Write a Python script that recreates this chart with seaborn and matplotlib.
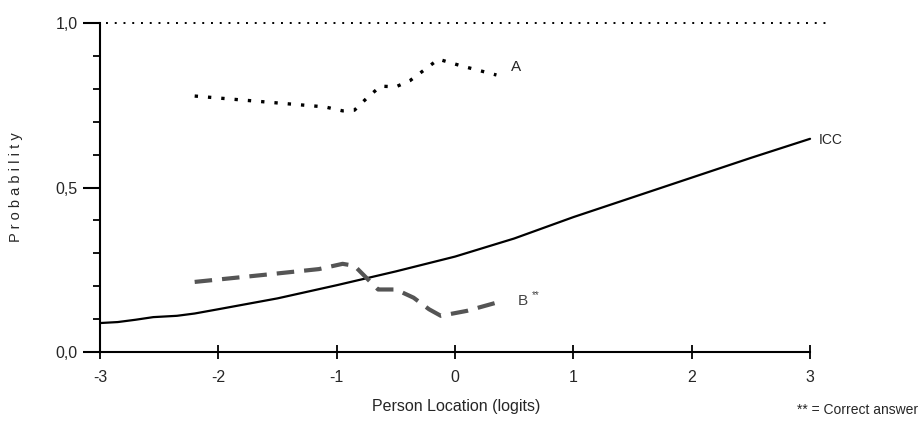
import numpy as np
import pandas as pd
import seaborn as sns
import matplotlib.pyplot as plt
from matplotlib.ticker import MultipleLocator, FixedLocator

sns.set_theme(style="white")
plt.rcParams['font.family'] = ['Liberation Sans', 'DejaVu Sans']

## data
icc_x = [-3.0, -2.85, -2.7, -2.55, -2.35, -2.2, -2.0, -1.5, -1.0, -0.5, 0.0, 0.5, 1.0, 1.5, 2.0, 2.5, 3.0]
icc_y = [0.088, 0.091, 0.098, 0.106, 0.110, 0.117, 0.130, 0.163, 0.203, 0.245, 0.290, 0.345, 0.410, 0.470, 0.530, 0.590, 0.648]

a_x = [-2.2, -1.6, -1.1, -0.95, -0.85, -0.75, -0.63, -0.5, -0.38, -0.25, -0.14, 0.05, 0.35]
a_y = [0.778, 0.760, 0.745, 0.733, 0.735, 0.770, 0.808, 0.806, 0.825, 0.860, 0.890, 0.870, 0.842]

b_x = [-2.2, -1.6, -1.15, -0.95, -0.85, -0.72, -0.65, -0.5, -0.35, -0.22, -0.12, 0.1, 0.4]
b_y = [0.213, 0.235, 0.252, 0.268, 0.262, 0.215, 0.190, 0.190, 0.165, 0.130, 0.110, 0.125, 0.155]

xticks = [-3, -2, -1, 0, 1, 2, 3]
yticks = [0.0, 0.5, 1.0]
ytick_labels = ['0,0', '0,5', '1,0']

icc = pd.DataFrame({'x': icc_x, 'y': icc_y})
opt_a = pd.DataFrame({'x': a_x, 'y': a_y})
opt_b = pd.DataFrame({'x': b_x, 'y': b_y})

fig = plt.figure(figsize=(9.2, 4.22), dpi=100)
ax = fig.add_axes([100/920, 70/422, (827.8-100)/920, 329/422])

sns.lineplot(data=icc, x='x', y='y', ax=ax, color='black', linewidth=1.6, sort=False)
sns.lineplot(data=opt_a, x='x', y='y', ax=ax, color='black', linewidth=2.4,
             dashes=False, sort=False)
ax.lines[-1].set_dashes((1, 3))
ax.lines[-1].set_dash_capstyle('butt')
sns.lineplot(data=opt_b, x='x', y='y', ax=ax, color='#555555', linewidth=3,
             sort=False)
ax.lines[-1].set_dashes((4.2, 2.4))
ax.lines[-1].set_dash_capstyle('butt')

## dotted line at p = 1
ref = ax.plot([-2.95, 3.14], [1.0, 1.0], color='black', linewidth=1.4, clip_on=False)[0]
ref.set_dashes((1, 3.5))

ax.set_xlim(-3, 3.15)
ax.set_ylim(0, 1.0)

for s in ['top', 'right']:
    ax.spines[s].set_visible(False)
for s in ['left', 'bottom']:
    ax.spines[s].set_color('black')
    ax.spines[s].set_linewidth(1.5)
ax.spines['bottom'].set_bounds(-3, 3)

ax.xaxis.set_major_locator(FixedLocator(xticks))
ax.set_xticklabels([str(t) for t in xticks])
ax.yaxis.set_major_locator(FixedLocator(yticks))
ax.set_yticklabels(ytick_labels)
ax.yaxis.set_minor_locator(MultipleLocator(0.1))

ax.tick_params(axis='x', direction='inout', length=10, width=1.3, color='black',
               labelsize=11.5, pad=8, bottom=True)
ax.tick_params(axis='y', which='major', direction='out', length=12, width=1.5,
               color='black', labelsize=11.5, pad=4, left=True)
ax.tick_params(axis='y', which='minor', direction='out', length=5, width=1.3,
               color='black', left=True)

ax.set_xlabel('')
ax.set_ylabel('')

ax.text(3.07, 0.645, 'ICC', fontsize=10, ha='left', va='center')
ax.text(0.47, 0.865, 'A', fontsize=11, ha='left', va='center')
ax.text(0.53, 0.155, 'B', fontsize=11, ha='left', va='center', color='#444444')
ax.text(0.645, 0.172, '**', fontsize=7, ha='left', va='center', color='#444444')

fig.text(456/920, 1 - 407/422, 'Person Location (logits)', fontsize=11.5,
         ha='center', va='center')
fig.text(797/920, 1 - 410/422, '** = Correct answer', fontsize=10,
         ha='left', va='center')
fig.text(16/920, 1 - 187/422, 'P r o b a b i l i t y', fontsize=10.5,
         rotation=90, ha='center', va='center')

fig.savefig('out.png', dpi=100)
